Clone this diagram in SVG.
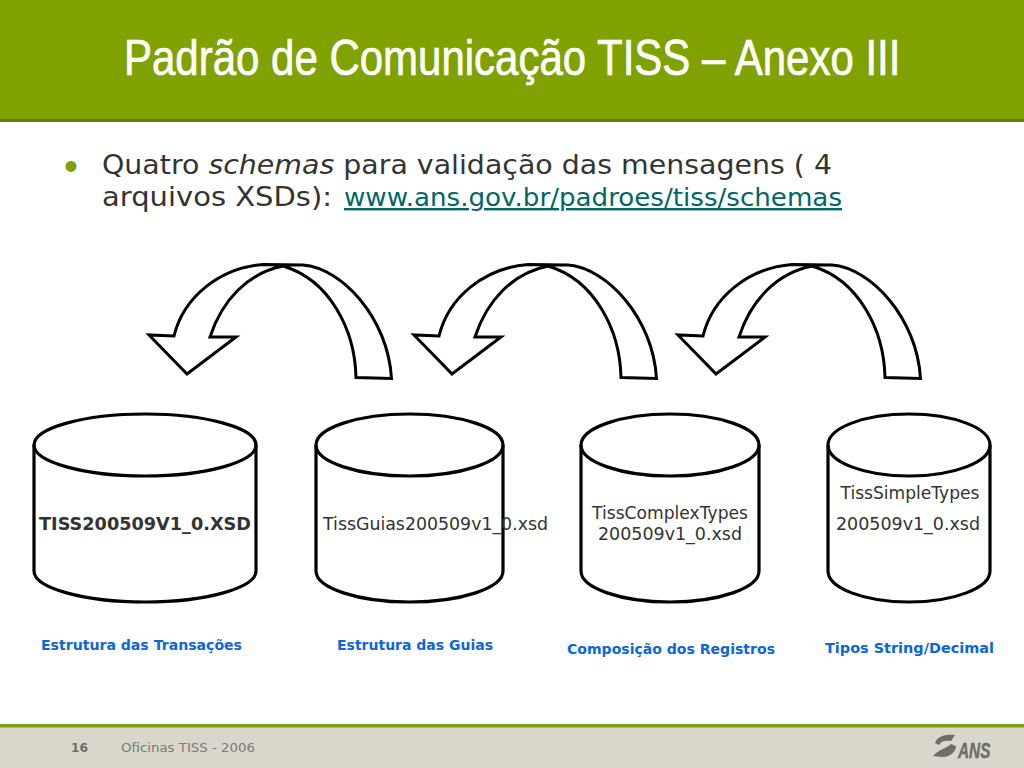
<svg xmlns="http://www.w3.org/2000/svg" xmlns:xlink="http://www.w3.org/1999/xlink" width="1024" height="768" viewBox="0 0 1024 768">
<style>
text{font-family:"DejaVu Sans",Verdana,sans-serif}
.shape{fill:#fff;stroke:#000;stroke-width:3.2;stroke-linejoin:round}
.line{fill:none;stroke:#000;stroke-width:3.2}
.arrow{fill:#fff;stroke:#000;stroke-width:3;stroke-linejoin:miter}
.lbl{font-size:17px;fill:#333}
.cap{font-size:13.5px;font-weight:bold;fill:#0d66d9}
.body{font-size:26.700px;fill:#333}
</style>
<defs>
<path id="arw" class="arrow" d="M356 377.500C355 330 330 280 283 266C248 273 222 300 210 337L236 337L187 374L149 335L174 336A100 92 0 0 1 263 264.500L303 265C342 268 388 318 391.500 378.500Z"/>
</defs>
<rect width="1024" height="768" fill="#fff"/>
<g id="header">
<rect width="1024" height="119" fill="#80a200"/>
<rect y="119" width="1024" height="3" fill="#5f7f10"/>
<text transform="translate(124 75) scale(.84 1)" font-size="50" fill="#fff" stroke="#fff" stroke-width=".7" style="font-family:'Liberation Sans',Arial,sans-serif">Padrão de Comunicação TISS – Anexo III</text>
</g>
<g id="bullet">
<text x="64" y="180" font-size="40" fill="#80a200" style="font-family:'Liberation Sans',Arial,sans-serif">•</text>
<text class="body" x="102" y="174" textLength="730" lengthAdjust="spacingAndGlyphs">Quatro <tspan font-style="italic">schemas</tspan> para validação das mensagens ( 4</text>
<text class="body" x="102" y="206" textLength="230" lengthAdjust="spacingAndGlyphs">arquivos XSDs):</text>
<text x="344" y="206" font-size="24" fill="#006666" text-decoration="underline" textLength="498" lengthAdjust="spacingAndGlyphs">www.ans.gov.br/padroes/tiss/schemas</text>
</g>
<g id="connectors">
<use xlink:href="#arw"/>
<use xlink:href="#arw" transform="translate(265 0)"/>
<use xlink:href="#arw" transform="translate(529 0)"/>
</g>
<g id="node1">
<path class="shape" d="M34 445C34 428 84 414 145 414C206 414 256 428 256 445V571C256 588 206 602 145 602C84 602 34 588 34 571Z"/>
<path class="line" d="M34 445C34 462 84 476 145 476C206 476 256 462 256 445"/>
<text class="lbl" x="145" y="530" text-anchor="middle" font-weight="bold" textLength="212" lengthAdjust="spacingAndGlyphs">TISS200509V1_0.XSD</text>
</g>
<g id="node2">
<path class="shape" d="M316 445C316 428 358 414 409.500 414C461 414 503 428 503 445V571C503 588 461 602 409.500 602C358 602 316 588 316 571Z"/>
<path class="line" d="M316 445C316 462 358 476 409.500 476C461 476 503 462 503 445"/>
<text class="lbl" x="323" y="530" textLength="225" lengthAdjust="spacingAndGlyphs">TissGuias200509v1_0.xsd</text>
</g>
<g id="node3">
<path class="shape" d="M581 445C581 428 621 414 670 414C719 414 759 428 759 445V571C759 588 719 602 670 602C621 602 581 588 581 571Z"/>
<path class="line" d="M581 445C581 462 621 476 670 476C719 476 759 462 759 445"/>
<text class="lbl" x="670" y="519" text-anchor="middle" textLength="156" lengthAdjust="spacingAndGlyphs">TissComplexTypes</text>
<text class="lbl" x="670" y="540" text-anchor="middle" textLength="144" lengthAdjust="spacingAndGlyphs">200509v1_0.xsd</text>
</g>
<g id="node4">
<path class="shape" d="M828 445C828 428 864 414 909 414C954 414 990 428 990 445V571C990 588 954 602 909 602C864 602 828 588 828 571Z"/>
<path class="line" d="M828 445C828 462 864 476 909 476C954 476 990 462 990 445"/>
<text class="lbl" x="910" y="499" text-anchor="middle" textLength="139" lengthAdjust="spacingAndGlyphs">TissSimpleTypes</text>
<text class="lbl" x="908" y="530" text-anchor="middle" textLength="144" lengthAdjust="spacingAndGlyphs">200509v1_0.xsd</text>
</g>
<g id="captions">
<text class="cap" x="41" y="650" textLength="201" lengthAdjust="spacingAndGlyphs">Estrutura das Transações</text>
<text class="cap" x="337" y="650" textLength="156" lengthAdjust="spacingAndGlyphs">Estrutura das Guias</text>
<text class="cap" x="567" y="654" textLength="208" lengthAdjust="spacingAndGlyphs">Composição dos Registros</text>
<text class="cap" x="825" y="653" textLength="169" lengthAdjust="spacingAndGlyphs">Tipos String/Decimal</text>
</g>
<g id="footer">
<rect y="724" width="1024" height="44" fill="#d9d6cc"/>
<rect y="724" width="1024" height="3.500" fill="#80a010"/>
<text x="71" y="752" font-size="13" font-weight="bold" fill="#6e6e62" textLength="17" lengthAdjust="spacingAndGlyphs">16</text>
<text x="121" y="752" font-size="13" fill="#7c7c70" textLength="134" lengthAdjust="spacingAndGlyphs">Oficinas TISS - 2006</text>
<path d="M935 743C937 736 946 734 955 735L951 741C945 740 941 741 939 745ZM933 756C938 750 947 748 951 744L956 746C956 752 950 757 942 757Z" fill="#6e6e66"/>
<text transform="translate(958 758) scale(.7 1)" font-size="22" font-weight="bold" font-style="italic" fill="#6e6e66" stroke="#6e6e66" stroke-width=".4" style="font-family:'Liberation Sans',Arial,sans-serif">ANS</text>
</g>
</svg>
